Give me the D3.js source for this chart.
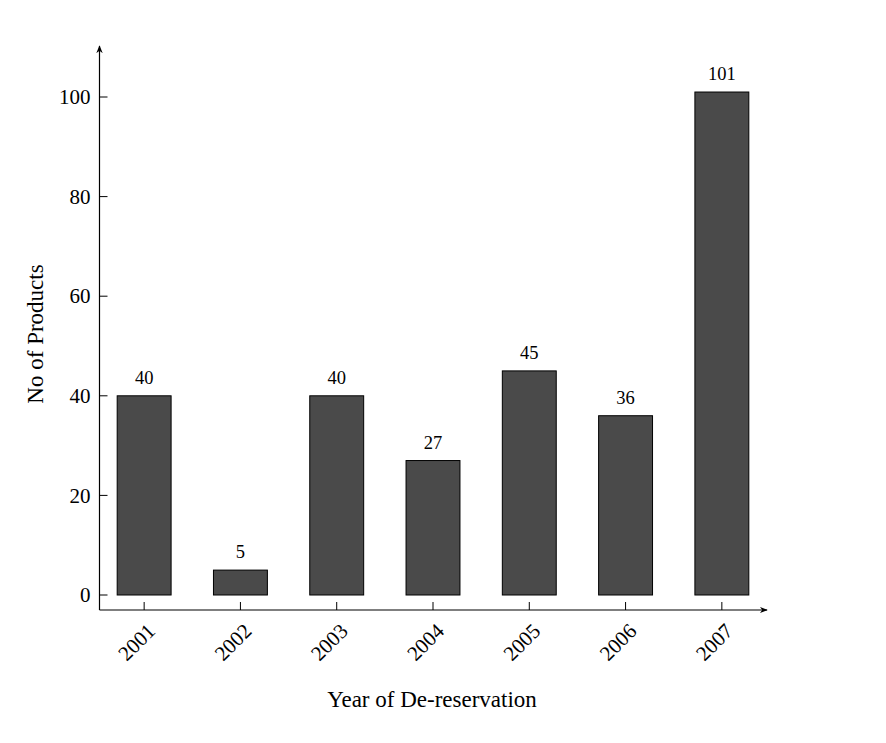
<!DOCTYPE html>
<html>
<head>
    <script src="https://d3js.org/d3.v7.min.js"></script>
    <style>
        body { margin: 0; background: #fff; }
        text { font-family: "Liberation Serif", "Times New Roman", serif; fill: #000; }
        .bar { fill: #4a4a4a; stroke: #000; stroke-width: 1; }
    </style>
</head>
<body>
    <div id="chart"></div>
    <script>
        const years = ["2001", "2002", "2003", "2004", "2005", "2006", "2007"];
        const products = [40, 5, 40, 27, 45, 36, 101];
        const yTicks = [0, 20, 40, 60, 80, 100];

        const width = 886;
        const height = 743;

        const svg = d3.select("#chart")
            .append("svg")
            .attr("width", width)
            .attr("height", height);

        // arrow heads for the axes
        svg.append("defs").append("marker")
            .attr("id", "arrow")
            .attr("viewBox", "0 0 10 10")
            .attr("refX", 9)
            .attr("refY", 5)
            .attr("markerWidth", 8)
            .attr("markerHeight", 8)
            .attr("markerUnits", "userSpaceOnUse")
            .attr("orient", "auto")
            .append("path")
            .attr("d", "M0,1 L10,5 L0,9 L3,5 Z")
            .attr("fill", "#000");

        const xScale = d3.scaleBand()
            .domain(years)
            .range([96, 770])
            .paddingInner(0.44)
            .paddingOuter(0.22);

        const yScale = d3.scaleLinear()
            .domain([0, 100])
            .range([595, 97]);

        const axisX = 99.5;
        const axisY = 610;

        // axis lines
        svg.append("line")
            .attr("x1", axisX).attr("x2", axisX)
            .attr("y1", axisY).attr("y2", 46)
            .attr("stroke", "#000")
            .attr("stroke-width", 1.2)
            .attr("marker-end", "url(#arrow)");

        svg.append("line")
            .attr("x1", axisX).attr("x2", 767)
            .attr("y1", axisY).attr("y2", axisY)
            .attr("stroke", "#000")
            .attr("stroke-width", 1.2)
            .attr("marker-end", "url(#arrow)");

        // y ticks
        svg.selectAll(".ytick")
            .data(yTicks)
            .enter()
            .append("line")
            .attr("x1", axisX)
            .attr("x2", axisX + 8)
            .attr("y1", d => yScale(d))
            .attr("y2", d => yScale(d))
            .attr("stroke", "#000");

        svg.selectAll(".ylabel")
            .data(yTicks)
            .enter()
            .append("text")
            .attr("x", axisX - 9)
            .attr("y", d => yScale(d))
            .attr("dy", "0.34em")
            .attr("text-anchor", "end")
            .attr("font-size", 21)
            .text(d => d);

        // bars
        svg.selectAll(".bar")
            .data(years)
            .enter()
            .append("rect")
            .attr("class", "bar")
            .attr("x", d => xScale(d))
            .attr("y", (d, i) => yScale(products[i]))
            .attr("width", xScale.bandwidth())
            .attr("height", (d, i) => yScale(0) - yScale(products[i]));

        // value labels
        svg.selectAll(".value")
            .data(years)
            .enter()
            .append("text")
            .attr("x", d => xScale(d) + xScale.bandwidth() / 2)
            .attr("y", (d, i) => yScale(products[i]) - 12)
            .attr("text-anchor", "middle")
            .attr("font-size", 18.5)
            .text((d, i) => products[i]);

        // x ticks
        svg.selectAll(".xtick")
            .data(years)
            .enter()
            .append("line")
            .attr("x1", d => xScale(d) + xScale.bandwidth() / 2)
            .attr("x2", d => xScale(d) + xScale.bandwidth() / 2)
            .attr("y1", axisY)
            .attr("y2", axisY - 8)
            .attr("stroke", "#000");

        svg.selectAll(".xlabel")
            .data(years)
            .enter()
            .append("text")
            .attr("transform", d => "translate(" + (xScale(d) + xScale.bandwidth() / 2 + 2) + "," + (axisY + 12) + ") rotate(-45)")
            .attr("text-anchor", "end")
            .attr("dy", "0.7em")
            .attr("font-size", 21)
            .text(d => d);

        // axis titles
        svg.append("text")
            .attr("x", 432)
            .attr("y", 707)
            .attr("text-anchor", "middle")
            .attr("font-size", 23)
            .text("Year of De-reservation");

        svg.append("text")
            .attr("transform", "translate(43,334) rotate(-90)")
            .attr("text-anchor", "middle")
            .attr("font-size", 23)
            .text("No of Products");
    </script>
</body>
</html>
